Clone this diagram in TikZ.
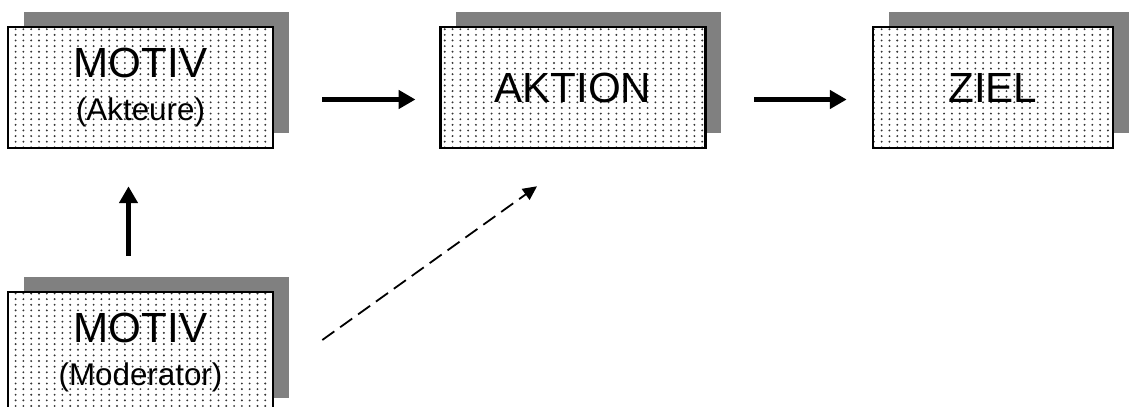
\documentclass[tikz,border=0pt]{standalone}
\usepackage{fontspec}
\setmainfont{Liberation Sans}
\usetikzlibrary{arrows.meta,patterns,shadows}
\definecolor{Schatten}{rgb}{0.5, 0.5, 0.5}
\pgfdeclarepatternformonly{finedots}{\pgfqpoint{-1pt}{-1pt}}{\pgfqpoint{1pt}{1pt}}{\pgfqpoint{5.55pt}{4pt}}{%
  \pgfpathcircle{\pgfqpoint{0pt}{0pt}}{0.75pt}\pgfusepath{fill}}

\begin{document}
\begin{tikzpicture}

      \useasboundingbox (0, 0) rectangle (28.275, 10.15);
      \clip (0, 0) rectangle (28.275, 10.15);

      % \tikzstyle{Box}=[rectangle, draw=black, fill=white];
      \tikzstyle{Box}=[rectangle, draw=black, line width=0.065cm,
        drop shadow={shadow xshift=0.4cm, shadow yshift=0.375cm, fill=Schatten, opacity=1},
        preaction={fill=white}, pattern=finedots, pattern color=black!80,
        minimum width=6.625cm, minimum height=3.025cm, inner sep=0pt];
      \tikzstyle{Flow}=[-{Triangle[width=0.45cm, length=0.42cm]}, line width=0.14cm];
      \tikzstyle{Hint}=[-{Triangle[width=0.33cm, length=0.35cm]}, line width=0.045cm,
        dash pattern=on 0.37cm off 0.18cm];

        \node[Box](MotAkt) at (3.5125, 7.9625) {
          \parbox{6cm}{ %
            \centering
            \fontsize{30}{30}\selectfont
            MOTIV\\
            \fontsize{22.3}{30}\selectfont
            (Akteure)
          }};

        \node[Box](Aktion) at (14.319, 7.9625) {
          \parbox{6cm}{ %
            \centering
            \fontsize{30}{30}\selectfont
            AKTION
          }};

        \node[Box, minimum width=6cm](Ziel) at (24.82, 7.9625) {
          \parbox{5.5cm}{ %
            \centering
            \fontsize{30}{30}\selectfont
            ZIEL
          }};

        \node[Box](MotMod) at (3.5125, 1.3375) {
          \parbox{6cm}{ %
            \centering
            \fontsize{30}{30}\selectfont
            MOTIV\\
            \fontsize{22.3}{30}\selectfont
            (Moderator)
          }};

        \draw[Flow, shorten <=1.2cm, shorten >=0.5875cm]
          ([yshift=-0.3cm]MotAkt.east) -- ([yshift=-0.3cm]Aktion.west);
        \draw[Flow, shorten <=1.19cm, shorten >=0.62cm]
          ([yshift=-0.3cm]Aktion.east) -- ([yshift=-0.3cm]Ziel.west);

        \draw[Flow, shorten <=0.875cm, shorten >=0.925cm]
          ([xshift=-0.3cm]MotMod.north) -- ([xshift=-0.3cm]MotAkt.south);

        \draw[Hint] ([shift={(1.2, 0.3125)}]MotMod.east)
          -- ([shift={(-0.894, -0.925)}]Aktion.south);
        %node [above, midway, sloped] {};

    \end{tikzpicture}
\end{document}
